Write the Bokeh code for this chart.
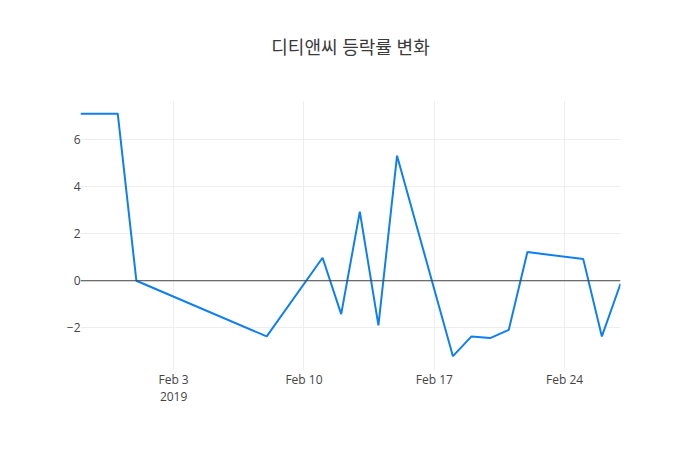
from bokeh.plotting import figure
from bokeh.models import FixedTicker, Span, Title
from bokeh.embed import file_html
from bokeh.resources import INLINE
import pandas as pd

# 디티앤씨 일별 등락률 (%)
dates = ["2019-01-29", "2019-01-31", "2019-02-01", "2019-02-08", "2019-02-11",
         "2019-02-12", "2019-02-13", "2019-02-14", "2019-02-15", "2019-02-18",
         "2019-02-19", "2019-02-20", "2019-02-21", "2019-02-22", "2019-02-25",
         "2019-02-26", "2019-02-27"]
change = [7.11, 7.11, 0.0, -2.37, 0.98, -1.42, 2.94, -1.90, 5.32, -3.21,
          -2.37, -2.44, -2.09, 1.22, 0.92, -2.37, -0.13]

x_ticks = ["2019-02-03", "2019-02-10", "2019-02-17", "2019-02-24"]
x_tick_labels = ["Feb 3\n2019", "Feb 10", "Feb 17", "Feb 24"]
y_ticks = [-2, 0, 2, 4, 6]
y_tick_labels = ["\u22122", "0", "2", "4", "6"]

x = pd.to_datetime(dates)
font = "'Open Sans', 'Noto Sans CJK KR', sans-serif"

# frame 540 x 270 like the plotly default margins
p = figure(width=684, height=434, x_axis_type="datetime",
           x_range=(x[0], x[-1]), y_range=(-3.82, 7.67),
           output_backend="svg", toolbar_location=None,
           min_border_left=80, min_border_right=64,
           min_border_top=100, min_border_bottom=64)
p.outline_line_color = None
p.background_fill_color = "white"
p.border_fill_color = "white"

# blank spacer next to the frame pushes the title up
p.add_layout(Title(text=" ", text_font_size="18px", standoff=20), "above")
title = Title(text="디티앤씨 등락률 변화", align="center",
              text_font=font, text_font_size="18px", text_color="#3a3a3a",
              text_font_style="normal", standoff=0)
p.add_layout(title, "above")

tick_ms = [pd.Timestamp(t).value / 1e6 for t in x_ticks]
p.xaxis.ticker = FixedTicker(ticks=tick_ms)
p.xaxis.major_label_overrides = dict(zip(tick_ms, x_tick_labels))
p.yaxis.ticker = FixedTicker(ticks=y_ticks)
p.yaxis.major_label_overrides = dict(zip(y_ticks, y_tick_labels))

for ax in (p.xaxis, p.yaxis):
    ax.axis_line_color = None
    ax.major_tick_line_color = None
    ax.minor_tick_line_color = None
    ax.major_tick_out = 0
    ax.major_tick_in = 0
    ax.major_label_text_font = font
    ax.major_label_text_font_size = "12px"
    ax.major_label_text_color = "#444444"
p.xaxis.major_label_standoff = 0
p.xaxis.major_label_text_line_height = 1.0
p.yaxis.major_label_standoff = 0

p.xgrid.grid_line_color = "#eeeeee"
p.ygrid.grid_line_color = "#eeeeee"

p.add_layout(Span(location=0, dimension="width", line_color="#444444", line_width=1))

p.line(x, change, line_color="#0f7ff0", line_width=2)

open("out.html", "w").write(file_html(p, INLINE))
